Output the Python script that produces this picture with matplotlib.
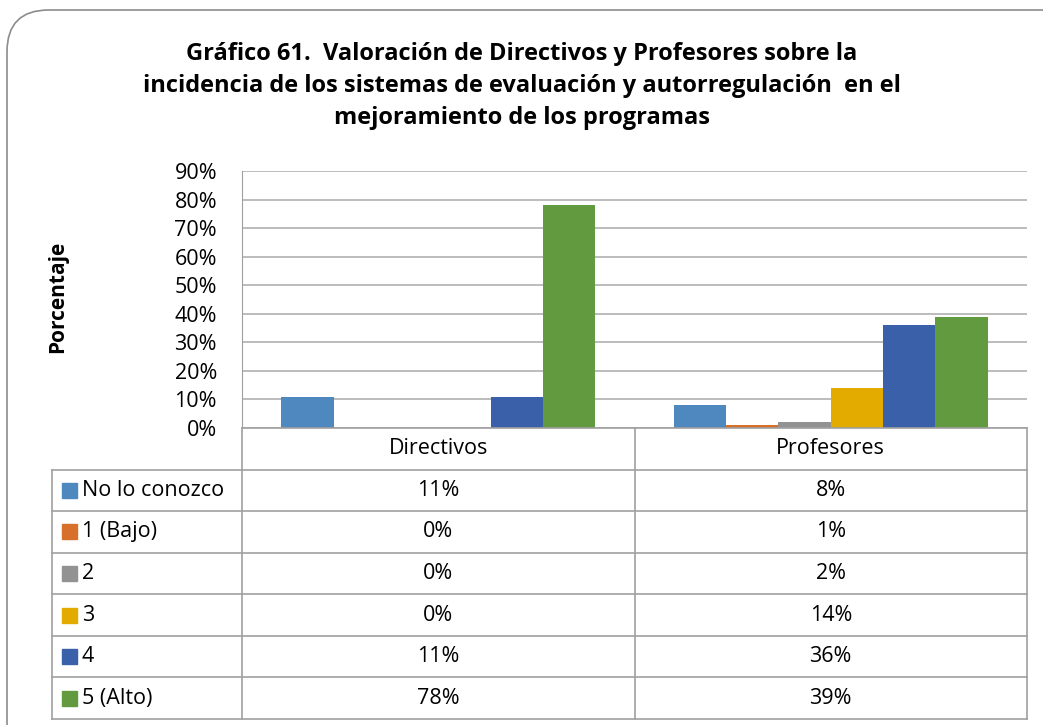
import matplotlib.pyplot as plt
import numpy as np
from matplotlib.patches import FancyBboxPatch, Rectangle

# data
groups = ['Directivos', 'Profesores']
series = ['No lo conozco', '1 (Bajo)', '2', '3', '4', '5 (Alto)']
directivos = [11, 0, 0, 0, 11, 78]
profesores = [8, 1, 2, 14, 36, 39]
colors = ['#4F88BF', '#D6702B', '#929292', '#E3AA00', '#3B60AA', '#629A3F']
title = ('Gráfico 61.  Valoración de Directivos y Profesores sobre la\n'
         'incidencia de los sistemas de evaluación y autorregulación  en el\n'
         'mejoramiento de los programas')

plt.rcParams['font.family'] = ['Open Sans', 'DejaVu Sans']

W, H = 1043, 725
fig = plt.figure(figsize=(W / 100, H / 100), dpi=100)

def px(x0, y0, x1, y1):
    return [x0 / W, 1 - y1 / H, (x1 - x0) / W, (y1 - y0) / H]

# rounded outer frame
frame = FancyBboxPatch((7 / W, -0.1), 1.2, 1 - 10 / H + 0.1,
                       boxstyle='round,pad=0,rounding_size=0.04',
                       transform=fig.transFigure, fill=False,
                       edgecolor='#8C8C8C', linewidth=1.2, mutation_aspect=W / H)
fig.patches.append(frame)

fig.text(0.5, 1 - 86 / H, title, ha='center', va='center', fontsize=17,
         fontweight='bold', linespacing=1.42)

# bar chart
left, right, top, base = 242, 1027, 171, 428
ax = fig.add_axes(px(left, top, right, base))
vals = np.array([directivos, profesores])
n = len(series)
bw = 1 / (n + 1.5)
x = np.arange(len(groups)) + 0.5
for i in range(n):
    ax.bar(x - 0.5 + bw * 0.75 + bw * i + bw / 2, vals[:, i], width=bw,
           color=colors[i], zorder=3)
ax.set_xlim(0, len(groups))
ax.set_ylim(0, 90)
ax.set_yticks(np.arange(0, 91, 10))
ax.set_yticklabels([f'{v}%' for v in range(0, 91, 10)], fontsize=15.5)
ax.grid(axis='y', color='#B0B0B0', linewidth=1.2, zorder=0)
ax.set_xticks([])
for s in ['top', 'right', 'bottom']:
    ax.spines[s].set_visible(False)
ax.spines['left'].set_color('#A0A0A0')
ax.tick_params(axis='y', length=0, pad=18)
ax.set_ylabel('Porcentaje', fontsize=15, fontweight='bold')
ax.yaxis.set_label_coords(-174 / (right - left), 0.51)

# data table below
tleft, tbot = 52, 719
unit = (right - left) / len(groups)
lab_w = (left - tleft) / unit
tax = fig.add_axes(px(tleft, base, right, tbot))
tax.set_xlim(-lab_w, len(groups))
nrows = n + 1
tax.set_ylim(nrows, 0)
tax.axis('off')
lc = '#A0A0A0'
lw = 1.2
# header row cells
tax.plot([0, len(groups)], [0, 0], color=lc, lw=lw, clip_on=False)
for g in range(len(groups) + 1):
    tax.plot([g, g], [0, nrows], color=lc, lw=lw, clip_on=False)
tax.plot([-lab_w, -lab_w], [1, nrows], color=lc, lw=lw, clip_on=False)
for r in range(1, nrows + 1):
    tax.plot([-lab_w, len(groups)], [r, r], color=lc, lw=lw, clip_on=False)
for g, name in enumerate(groups):
    tax.text(g + 0.5, 0.5, name, ha='center', va='center', fontsize=15.5)
for i, name in enumerate(series):
    r = i + 1.5
    tax.add_patch(Rectangle((-lab_w + 10 / unit, r - 0.18), 15 / unit, 0.36,
                            color=colors[i], transform=tax.transData))
    tax.text(-lab_w + 30 / unit, r, name, ha='left', va='center', fontsize=15.5)
    for g in range(len(groups)):
        tax.text(g + 0.5, r, f'{vals[g, i]}%', ha='center', va='center',
                 fontsize=15.5)

fig.savefig('out.png', dpi=100)
